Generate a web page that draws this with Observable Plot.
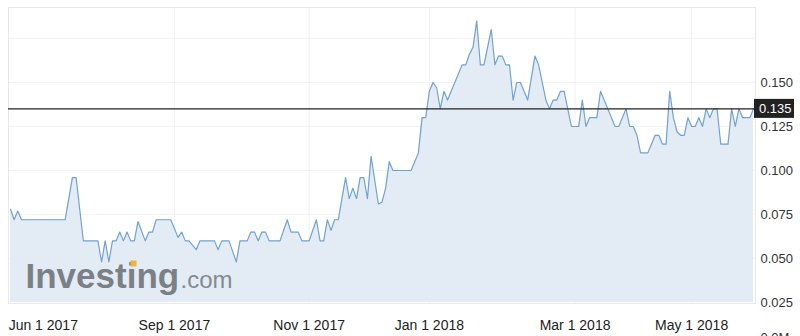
<!DOCTYPE html>
<html><head><meta charset="utf-8">
<script src="https://cdn.jsdelivr.net/npm/d3@7"></script>
<script src="https://cdn.jsdelivr.net/npm/@observablehq/plot@0.6"></script>
<style>body{margin:0;background:#fff;} #chart svg{display:block;}</style>
</head><body><div id="chart"></div>
<script>
// trading-session index (x) and closing price (y)
const sessions = [0,1,2,3,15,17,18,20,24,25,26,27,28,29,30,31,32,33,34,35,37,38,39,40,44,46,47,48,49,51,52,56,57,58,60,62,63,65,66,67,68,69,70,71,74,76,77,79,80,82,84,85,86,87,88,89,90,92,93,94,95,96,97,98,99,101,102,103,104,105,110,112,113,114,115,116,117,118,119,120,124,125,126,127,128,129,130,132,133,134,135,136,137,138,139,140,142,144,145,146,147,148,149,150,151,152,154,156,157,158,159,161,162,164,166,167,169,170,171,172,173,175,176,177,178,179,180,181,182,183,184,185,186,187,188,189,190,191,192,193,194,195,197,198,199,200,201,203,204];
const prices = [0.078,0.072,0.077,0.072,0.072,0.096,0.096,0.060,0.060,0.048,0.060,0.048,0.060,0.060,0.065,0.060,0.065,0.060,0.060,0.071,0.060,0.065,0.065,0.072,0.072,0.062,0.065,0.060,0.060,0.055,0.060,0.060,0.055,0.060,0.060,0.048,0.060,0.060,0.065,0.065,0.060,0.065,0.065,0.060,0.060,0.072,0.065,0.065,0.060,0.060,0.072,0.060,0.060,0.072,0.066,0.072,0.072,0.096,0.084,0.090,0.084,0.096,0.096,0.084,0.108,0.081,0.082,0.090,0.105,0.100,0.100,0.110,0.130,0.130,0.145,0.150,0.147,0.135,0.145,0.140,0.160,0.160,0.166,0.170,0.185,0.160,0.160,0.180,0.160,0.165,0.165,0.160,0.160,0.140,0.150,0.150,0.140,0.165,0.160,0.150,0.140,0.135,0.140,0.140,0.145,0.145,0.125,0.125,0.140,0.125,0.130,0.130,0.145,0.135,0.125,0.125,0.135,0.125,0.125,0.120,0.110,0.110,0.115,0.120,0.120,0.115,0.115,0.145,0.130,0.122,0.120,0.120,0.130,0.125,0.125,0.130,0.125,0.135,0.130,0.135,0.135,0.115,0.115,0.135,0.125,0.135,0.130,0.130,0.135];
const tickSessions = [9,45,82,115,155,187];
const tickLabels = ["Jun 1 2017","Sep 1 2017","Nov 1 2017","Jan 1 2018","Mar 1 2018","May 1 2018"];
const gridSessions = [45,82,115,155,187];
const yTicks = [0.025,0.050,0.075,0.100,0.125,0.150];
const yGrid = [0.050,0.075,0.100,0.125,0.150,0.175];
const lastPrice = 0.135;
const yMin = 0.025, yMax = 0.1926;

const data = sessions.map((s, i) => ({s, p: prices[i]}));
const font = "Arial, 'Liberation Sans', Helvetica, sans-serif";
const fmt = d3.format(".3f");

const lastLabel = (index, scales, values, dims) => {
  const y = scales.y(lastPrice);
  const x0 = dims.width - dims.marginRight;
  const g = d3.create("svg:g");
  g.append("rect").attr("x", x0 - 1).attr("y", y - 9.5).attr("width", 40).attr("height", 19).attr("fill", "#222");
  g.append("text").attr("x", x0 + 4).attr("y", y).attr("dy", "0.35em").attr("fill", "#fff")
    .attr("text-anchor", "start").attr("font-size", 13).attr("font-family", font).text(fmt(lastPrice));
  return g.node();
};

const chart = Plot.plot({
  width: 800, height: 336,
  marginLeft: 8, marginRight: 45, marginTop: 7, marginBottom: 33,
  style: {fontFamily: font, background: "#fff", overflow: "hidden"},
  x: {type: "linear", domain: [0, 204], insetLeft: 2, insetRight: 2},
  y: {domain: [yMin, yMax], insetBottom: 1},
  marks: [
    Plot.gridY(yGrid, {stroke: "#f3f3f3", strokeOpacity: 1}),
    Plot.gridX(gridSessions, {stroke: "#f1f1f1", strokeOpacity: 1}),
    Plot.areaY(data, {x: "s", y1: yMin, y2: "p", fill: "#e3ecf5"}),
    Plot.text(["Investing"], {frameAnchor: "bottom-left", dx: 17, dy: -16, lineAnchor: "bottom", textAnchor: "start", fontSize: 35, fontWeight: "bold", fill: "#7b8086"}),
    Plot.text([".com"], {frameAnchor: "bottom-left", dx: 172, dy: -16, lineAnchor: "bottom", textAnchor: "start", fontSize: 24, fill: "#868a90"}),
    Plot.dot([0], {frameAnchor: "bottom-left", dx: 125, dy: -40, symbol: "square", r: 3.4, fill: "#eeb24a", stroke: null}),
    Plot.lineY(data, {x: "s", y: "p", stroke: "#72a2d0", strokeWidth: 1.2}),
    Plot.frame({stroke: "#e8e8e8"}),
    Plot.ruleY([lastPrice], {stroke: "#222", strokeWidth: 1.3}),
    Plot.axisY(yTicks, {anchor: "right", tickSize: 0, tickPadding: 5, tickFormat: fmt, fontSize: 13, fill: "#333", label: null}),
    Plot.axisX(tickSessions, {anchor: "bottom", tickSize: 0, tickPadding: 17, tickFormat: d => tickLabels[tickSessions.indexOf(d)], fontSize: 14, fill: "#222", label: null}),
    lastLabel,
    Plot.text(["0.0M"], {frameAnchor: "bottom-right", dx: 5, dy: 29, textAnchor: "start", lineAnchor: "top", fontSize: 13, fill: "#333"})
  ]
});
document.getElementById("chart").append(chart);
</script>
</body></html>
